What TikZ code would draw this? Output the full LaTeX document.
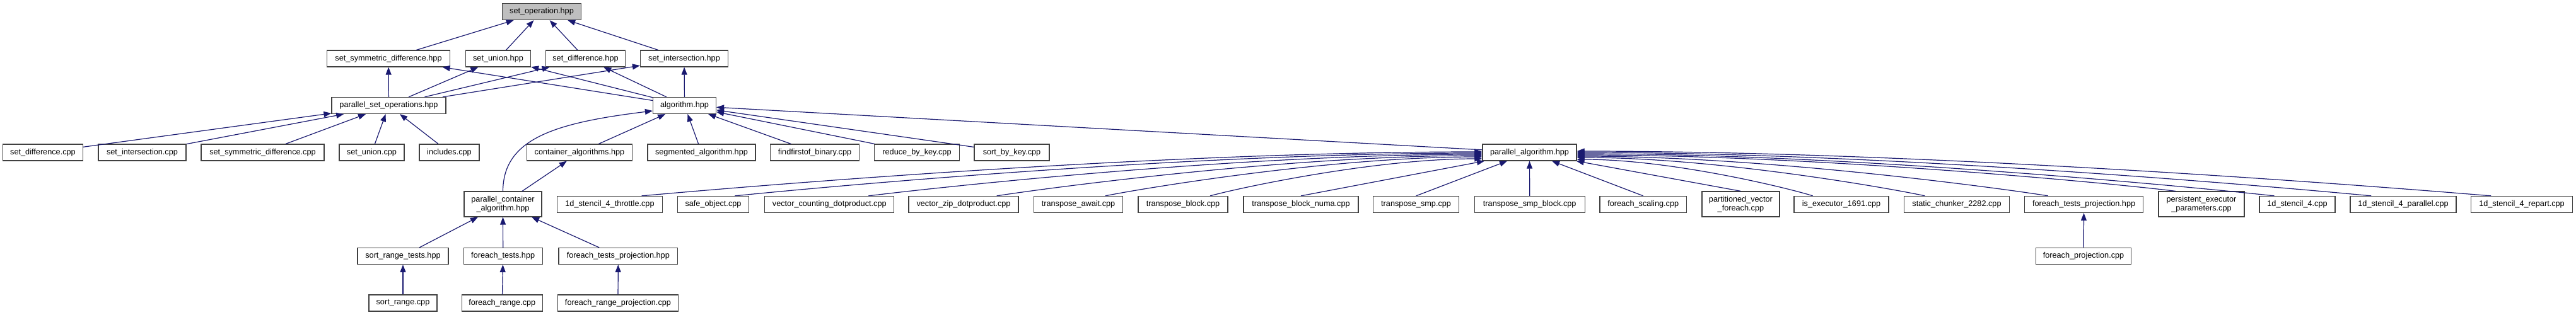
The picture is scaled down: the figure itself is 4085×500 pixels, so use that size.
\documentclass[tikz,border=0pt]{standalone}
\usepackage{fontspec}
\setmainfont{Liberation Sans}
\usetikzlibrary{arrows.meta,calc}
\definecolor{edgec}{HTML}{191970}
\definecolor{boxc}{HTML}{404040}
\definecolor{rootc}{HTML}{BFBFBF}
\newcommand\pahcurve[2]{%
  \draw[edge] let \p1=(#1), \p2=(#2) in (\p1) .. controls (0.9*\x1+0.1*\x2, \y1+12pt) and (0.6*\x2+0.4*\x1, \y2) .. (\p2);}
\begin{document}
\begin{tikzpicture}[x=1pt,y=-1pt,
 box/.style={draw=boxc,line width=1.2pt,fill=white,inner sep=0pt,minimum height=26pt,font=\fontsize{12.7}{14}\selectfont,align=center},
 dbl/.style={minimum height=40pt},
 edge/.style={draw=edgec,line width=1.2pt,-{Triangle[length=12pt,width=9pt]}}]
\useasboundingbox[fill=white] (0,0) rectangle (4085,500);
% row 0
\node[box,fill=rootc,minimum width=125pt] (so) at (859,18.5) {set\_operation.hpp};
% row 1
\node[box,minimum width=195pt] (ssdh) at (616,93) {set\_symmetric\_difference.hpp};
\node[box,minimum width=103pt] (suh) at (790,93) {set\_union.hpp};
\node[box,minimum width=126pt] (sdh) at (928.5,93) {set\_difference.hpp};
\node[box,minimum width=139pt] (sih) at (1085,93) {set\_intersection.hpp};
% row 2
\node[box,minimum width=181pt] (pso) at (616.5,167.5) {parallel\_set\_operations.hpp};
\node[box,minimum width=100pt] (alg) at (1085.5,167.5) {algorithm.hpp};
% row 3
\node[box,minimum width=127pt] (sdc) at (68,242) {set\_difference.cpp};
\node[box,minimum width=139pt] (sic) at (225.5,242) {set\_intersection.cpp};
\node[box,minimum width=195pt] (ssdc) at (416.5,242) {set\_symmetric\_difference.cpp};
\node[box,minimum width=103pt] (suc) at (589.5,242) {set\_union.cpp};
\node[box,minimum width=95pt] (inc) at (712.5,242) {includes.cpp};
\node[box,minimum width=167pt] (cah) at (919,242) {container\_algorithms.hpp};
\node[box,minimum width=171pt] (sah) at (1112.5,242) {segmented\_algorithm.hpp};
\node[box,minimum width=141pt] (ffb) at (1292,242) {findfirstof\_binary.cpp};
\node[box,minimum width=135pt] (rbk) at (1454,242) {reduce\_by\_key.cpp};
\node[box,minimum width=119pt] (sbk) at (1604.5,242) {sort\_by\_key.cpp};
\node[box,minimum width=149pt] (pah) at (2425.5,242) {parallel\_algorithm.hpp};
% row 4
\node[box,dbl,minimum width=123pt] (pca) at (797.5,324) {parallel\_container\\\_algorithm.hpp};
\node[box,minimum width=167pt] (st4t) at (967,324.5) {1d\_stencil\_4\_throttle.cpp};
\node[box,minimum width=113pt] (safe) at (1131,324.5) {safe\_object.cpp};
\node[box,minimum width=205pt] (vcd) at (1315.3,324.5) {vector\_counting\_dotproduct.cpp};
\node[box,minimum width=174pt] (vzd) at (1528,324.5) {vector\_zip\_dotproduct.cpp};
\node[box,minimum width=141pt] (ta) at (1710,324.5) {transpose\_await.cpp};
\node[box,minimum width=142pt] (tb) at (1876,324.5) {transpose\_block.cpp};
\node[box,minimum width=182pt] (tbn) at (2063,324.5) {transpose\_block\_numa.cpp};
\node[box,minimum width=136pt] (ts) at (2245.6,324.5) {transpose\_smp.cpp};
\node[box,minimum width=175pt] (tsb) at (2425.7,324.5) {transpose\_smp\_block.cpp};
\node[box,minimum width=137.5pt] (fs) at (2605.7,324.5) {foreach\_scaling.cpp};
\node[box,dbl,minimum width=123pt] (pvf) at (2760.4,324) {partitioned\_vector\\\_foreach.cpp};
\node[box,minimum width=150pt] (ie) at (2920,324.5) {is\_executor\_1691.cpp};
\node[box,minimum width=167pt] (sc) at (3103,324.5) {static\_chunker\_2282.cpp};
\node[box,minimum width=188pt] (ftpR) at (3304.6,324.5) {foreach\_tests\_projection.hpp};
\node[box,dbl,minimum width=136pt] (pep) at (3491,324) {persistent\_executor\\\_parameters.cpp};
\node[box,minimum width=120pt] (s4) at (3643,324.5) {1d\_stencil\_4.cpp};
\node[box,minimum width=168pt] (s4p) at (3811,324.5) {1d\_stencil\_4\_parallel.cpp};
\node[box,minimum width=161pt] (s4r) at (3999,324.5) {1d\_stencil\_4\_repart.cpp};
% row 5
\node[box,minimum width=144pt] (srt) at (639,406.5) {sort\_range\_tests.hpp};
\node[box,minimum width=125pt] (fth) at (797.7,406.5) {foreach\_tests.hpp};
\node[box,minimum width=188.6pt] (ftpL) at (980.3,406.5) {foreach\_tests\_projection.hpp};
\node[box,minimum width=151.5pt] (fpc) at (3304,406.5) {foreach\_projection.cpp};
% row 6
\node[box,minimum width=108pt] (sr) at (639,481) {sort\_range.cpp};
\node[box,minimum width=128pt] (fr) at (796.3,481) {foreach\_range.cpp};
\node[box,minimum width=191pt] (frp) at (980,481) {foreach\_range\_projection.cpp};
% edges
\foreach \c in {ssdh,suh,sdh,sih} \draw[edge] (\c) -- (so);
\foreach \p in {ssdh,suh,sdh,sih} {\draw[edge] (pso) -- (\p); \draw[edge] (alg) -- (\p);}
\foreach \c in {sdc,sic,ssdc,suc,inc} \draw[edge] (\c) -- (pso);
\foreach \c in {cah,sah,ffb,rbk,sbk,pah} \draw[edge] (\c) -- (alg);
\draw[edge] (pca.north) .. controls (798,220) and (880,195) .. ([yshift=-8.5pt]alg.west);
\draw[edge] (pca) -- (cah);
% edges into parallel_algorithm.hpp
\foreach \c/\d in {st4t/1,safe/-1,vcd/-3,vzd/-5,ta/-7,tb/-10}
  \pahcurve{$(\c.north)!0.6!(\c.north east)$}{[yshift=\d pt]pah.west};
\foreach \c/\d in {s4r/2,s4p/0,s4/-2,pep/-4,ftpR/-6,sc/-8,ie/-11}
  \pahcurve{$(\c.north)!0.6!(\c.north west)$}{[yshift=\d pt]pah.east};
\foreach \c in {tbn,ts,tsb,fs,pvf} \draw[edge] (\c.north) -- (pah);
\foreach \c in {srt,fth,ftpL} \draw[edge] (\c) -- (pca);
\draw[edge] (sr) -- (srt);
\draw[edge] (fr) -- (fth);
\draw[edge] (frp) -- (ftpL);
\draw[edge] (fpc) -- (ftpR);
\end{tikzpicture}
\end{document}
